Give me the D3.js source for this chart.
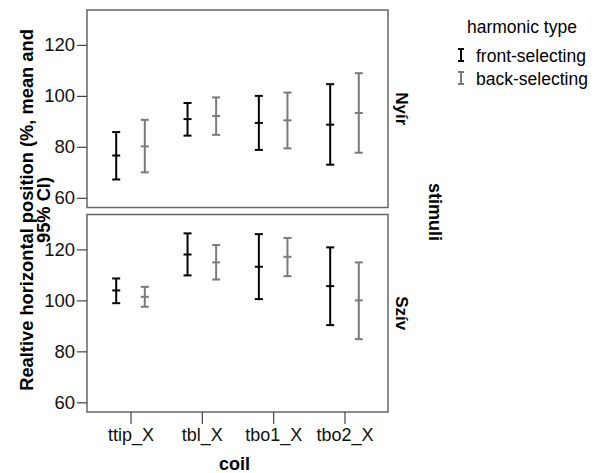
<!DOCTYPE html>
<html><head><meta charset="utf-8">
<script src="https://cdn.jsdelivr.net/npm/d3@7"></script>
<style>body{margin:0;background:#fff}svg{display:block}text{font-family:"Liberation Sans",Arial,sans-serif}</style>
</head><body><svg id="c" width="602" height="473"></svg>
<script>
const categories = ["ttip_X","tbl_X","tbo1_X","tbo2_X"];
const seriesNames = ["front-selecting","back-selecting"];
const panelNames = ["Nyír","Szív"];
const yTicks = [60,80,100,120];
// Nyír
const nyirFrontMean = [76.6, 90.9, 89.4, 88.7];
const nyirFrontLow  = [67.2, 84.4, 78.8, 73.0];
const nyirFrontHigh = [85.8, 97.2, 100.0, 104.6];
const nyirBackMean  = [80.2, 92.1, 90.4, 93.3];
const nyirBackLow   = [70.0, 84.7, 79.4, 77.7];
const nyirBackHigh  = [90.6, 99.4, 101.3, 108.9];
// Szív
const szivFrontMean = [103.9, 118.0, 113.2, 105.6];
const szivFrontLow  = [98.9, 109.8, 100.5, 90.3];
const szivFrontHigh = [108.6, 126.3, 126.0, 120.8];
const szivBackMean  = [101.4, 114.9, 117.1, 100.0];
const szivBackLow   = [97.5, 108.2, 109.5, 84.8];
const szivBackHigh  = [105.3, 121.7, 124.5, 114.9];

const panels = [
  {name: panelNames[0], series: [
    {name: seriesNames[0], mean: nyirFrontMean, low: nyirFrontLow, high: nyirFrontHigh},
    {name: seriesNames[1], mean: nyirBackMean, low: nyirBackLow, high: nyirBackHigh}]},
  {name: panelNames[1], series: [
    {name: seriesNames[0], mean: szivFrontMean, low: szivFrontLow, high: szivFrontHigh},
    {name: seriesNames[1], mean: szivBackMean, low: szivBackLow, high: szivBackHigh}]}
];

const colors = d3.scaleOrdinal().domain(seriesNames).range(["#000000","#7a7a7a"]);
const svg = d3.select("#c");
const L = 87, R = 388;
const panelTops = [10, 214.5], panelH = 197.5;
const x = d3.scalePoint().domain(categories).range([L, R]).padding(0.61);
const dx = d3.scalePoint().domain(seriesNames).range([-14.3, 14.3]);
const capW = 4;

panels.forEach((p, i) => {
  const top = panelTops[i];
  const y = d3.scaleLinear().domain([56.2, 133.7]).range([top + panelH, top]);
  const g = svg.append("g");
  g.append("rect").attr("x", L).attr("y", top).attr("width", R - L).attr("height", panelH)
    .attr("fill", "none").attr("stroke", "#666").attr("stroke-width", 1.5);
  const ax = g.append("g").attr("transform", `translate(${L},0)`)
    .call(d3.axisLeft(y).tickValues(yTicks).tickSize(10).tickPadding(2));
  ax.select(".domain").remove();
  ax.selectAll("line").attr("stroke", "#444").attr("stroke-width", 1.2);
  ax.selectAll("text").attr("font-size", 18.5).attr("fill", "#111");
  p.series.forEach(s => {
    const c = colors(s.name);
    const sg = g.append("g");
    categories.forEach((cat, k) => {
      const cx = x(cat) + dx(s.name);
      sg.append("line").attr("x1", cx).attr("x2", cx).attr("y1", y(s.low[k])).attr("y2", y(s.high[k]))
        .attr("stroke", c).attr("stroke-width", 2);
      [s.low[k], s.high[k], s.mean[k]].forEach(v => {
        sg.append("line").attr("x1", cx - capW).attr("x2", cx + capW).attr("y1", y(v)).attr("y2", y(v))
          .attr("stroke", c).attr("stroke-width", 2);
      });
    });
  });
  g.append("text").attr("transform", `translate(${R + 8},${top + panelH / 2}) rotate(90)`)
    .attr("text-anchor", "middle").attr("font-size", 17).attr("font-weight", "bold").text(p.name);
});

const bottom = panelTops[1] + panelH;
const xa = svg.append("g").attr("transform", `translate(0,${bottom})`)
  .call(d3.axisBottom(x).tickSize(12).tickPadding(4));
xa.select(".domain").remove();
xa.selectAll("line").attr("stroke", "#444").attr("stroke-width", 1.2);
xa.selectAll("text").attr("font-size", 18).attr("fill", "#111");

svg.append("text").attr("x", (L + R) / 2 - 3).attr("y", 470).attr("text-anchor", "middle")
  .attr("font-size", 18).attr("font-weight", "bold").text("coil");

const yt = svg.append("text").attr("transform", `translate(33,210) rotate(-90)`)
  .attr("text-anchor", "middle").attr("font-size", 18.3).attr("font-weight", "bold");
yt.append("tspan").attr("x", 0).attr("y", 0).text("Realtive horizontal position (%, mean and");
yt.append("tspan").attr("x", 0).attr("y", 17).text("95% CI)");

svg.append("text").attr("transform", `translate(429,212) rotate(90)`)
  .attr("text-anchor", "middle").attr("font-size", 18).attr("font-weight", "bold").text("stimuli");

svg.append("text").attr("x", 467).attr("y", 33).attr("font-size", 17.5).text("harmonic type");
seriesNames.forEach((n, i) => {
  const cy = 55 + i * 23;
  const c = colors(n);
  const lg = svg.append("g");
  lg.append("line").attr("x1", 461).attr("x2", 461).attr("y1", cy - 6).attr("y2", cy + 6).attr("stroke", c).attr("stroke-width", 2);
  lg.append("line").attr("x1", 458).attr("x2", 464).attr("y1", cy - 6).attr("y2", cy - 6).attr("stroke", c).attr("stroke-width", 2);
  lg.append("line").attr("x1", 458).attr("x2", 464).attr("y1", cy + 6).attr("y2", cy + 6).attr("stroke", c).attr("stroke-width", 2);
  lg.append("text").attr("x", 476).attr("y", cy + 7).attr("font-size", 17.5).text(n);
});
</script></body></html>
